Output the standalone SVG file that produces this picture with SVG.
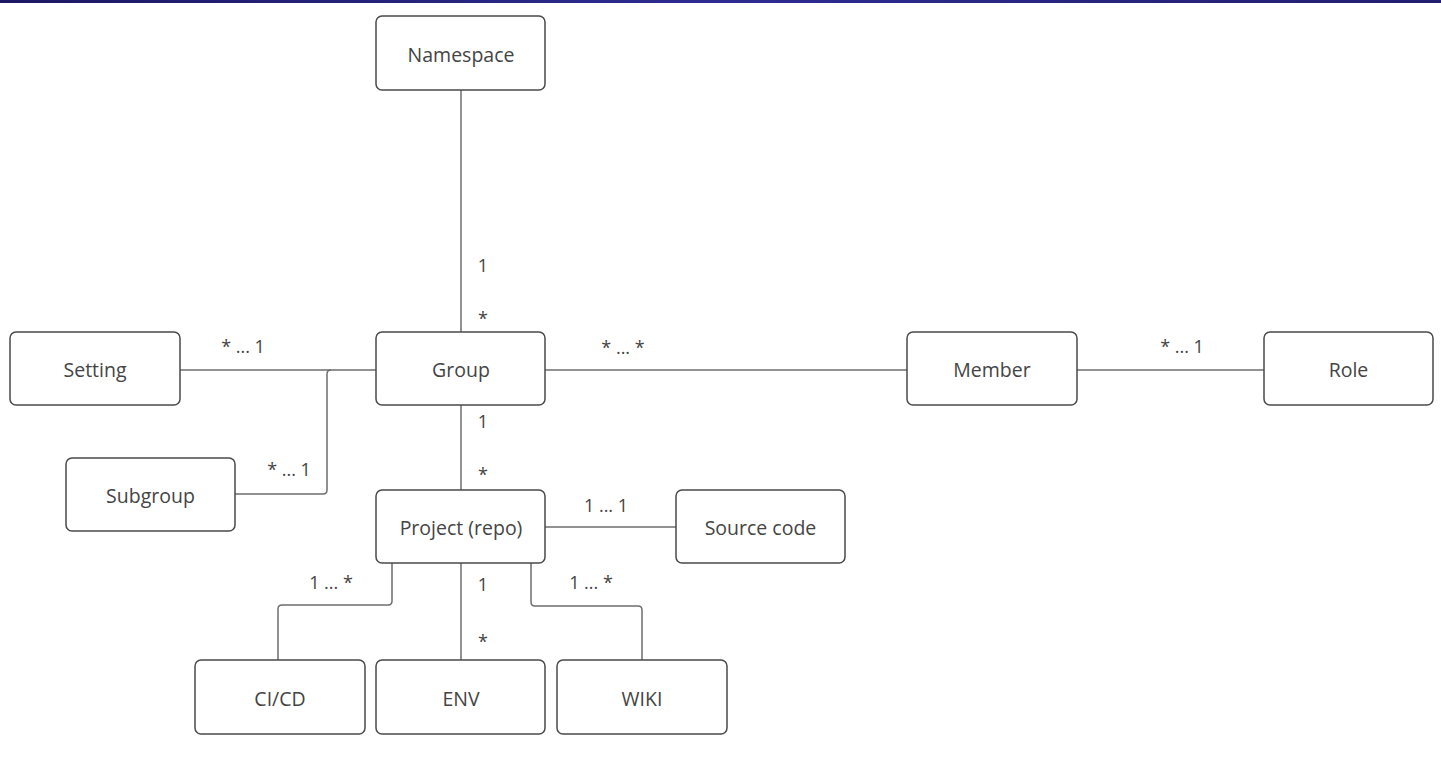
<svg xmlns="http://www.w3.org/2000/svg" width="1441" height="768" viewBox="0 0 1441 768">
<defs>
<linearGradient id="bar" x1="0" y1="0" x2="1" y2="0">
<stop offset="0" stop-color="#1c1864"/>
<stop offset="0.5" stop-color="#2e2c92"/>
<stop offset="1" stop-color="#221e70"/>
</linearGradient>
<style>
.box{fill:#ffffff;stroke:#4a4a4a;stroke-width:1.5}
.lbl{font-family:"Open Sans","Noto Sans",sans-serif;font-size:18px;fill:#444444;text-anchor:middle}
.txt{font-family:"Open Sans","Noto Sans",sans-serif;font-size:19.5px;fill:#444444;text-anchor:middle}
.ln{fill:none;stroke:#6e6e6e;stroke-width:1.5}
</style>
</defs>
<rect width="1441" height="768" fill="#ffffff"/>
<rect x="0" y="0" width="1441" height="3" fill="url(#bar)"/>
<g id="connectors">
<path class="ln" d="M461 90 V332"/>
<path class="ln" d="M180 370 H376"/>
<path class="ln" d="M235 494 H323 Q327 494 327 490 V374 Q327 370 331 370"/>
<path class="ln" d="M545 370 H907"/>
<path class="ln" d="M1077 370 H1264"/>
<path class="ln" d="M461 405 V490"/>
<path class="ln" d="M545 527 H676"/>
<path class="ln" d="M392 563 V601 Q392 605 388 605 H282 Q278 605 278 609 V660"/>
<path class="ln" d="M461 563 V660"/>
<path class="ln" d="M531 563 V602 Q531 606 535 606 H638 Q642 606 642 610 V660"/>
<text class="lbl" x="483" y="272">1</text>
<text class="lbl" x="483" y="325">*</text>
<text class="lbl" x="243" y="353">* ... 1</text>
<text class="lbl" x="289" y="476">* ... 1</text>
<text class="lbl" x="623" y="354">* ... *</text>
<text class="lbl" x="1182" y="353">* ... 1</text>
<text class="lbl" x="483" y="428">1</text>
<text class="lbl" x="483" y="481">*</text>
<text class="lbl" x="606" y="512">1 ... 1</text>
<text class="lbl" x="331" y="589">1 ... *</text>
<text class="lbl" x="591" y="589">1 ... *</text>
<text class="lbl" x="483" y="591">1</text>
<text class="lbl" x="483" y="648">*</text>
</g>
<g id="namespace"><rect class="box" x="376" y="16" width="169" height="74" rx="6"/><text class="txt" x="461" y="62">Namespace</text></g>
<g id="setting"><rect class="box" x="10" y="332" width="170" height="73" rx="6"/><text class="txt" x="95" y="377">Setting</text></g>
<g id="group"><rect class="box" x="376" y="332" width="169" height="73" rx="6"/><text class="txt" x="461" y="377">Group</text></g>
<g id="member"><rect class="box" x="907" y="332" width="170" height="73" rx="6"/><text class="txt" x="992" y="377">Member</text></g>
<g id="role"><rect class="box" x="1264" y="332" width="169" height="73" rx="6"/><text class="txt" x="1348.5" y="377">Role</text></g>
<g id="subgroup"><rect class="box" x="66" y="458" width="169" height="73" rx="6"/><text class="txt" x="150.5" y="503">Subgroup</text></g>
<g id="project"><rect class="box" x="376" y="490" width="169" height="73" rx="6"/><text class="txt" x="461" y="535">Project (repo)</text></g>
<g id="source-code"><rect class="box" x="676" y="490" width="169" height="73" rx="6"/><text class="txt" x="760.5" y="535">Source code</text></g>
<g id="cicd"><rect class="box" x="195" y="660" width="170" height="74" rx="6"/><text class="txt" x="280" y="706">CI/CD</text></g>
<g id="env"><rect class="box" x="376" y="660" width="169" height="74" rx="6"/><text class="txt" x="461" y="706">ENV</text></g>
<g id="wiki"><rect class="box" x="557" y="660" width="170" height="74" rx="6"/><text class="txt" x="642" y="706">WIKI</text></g>
</svg>
